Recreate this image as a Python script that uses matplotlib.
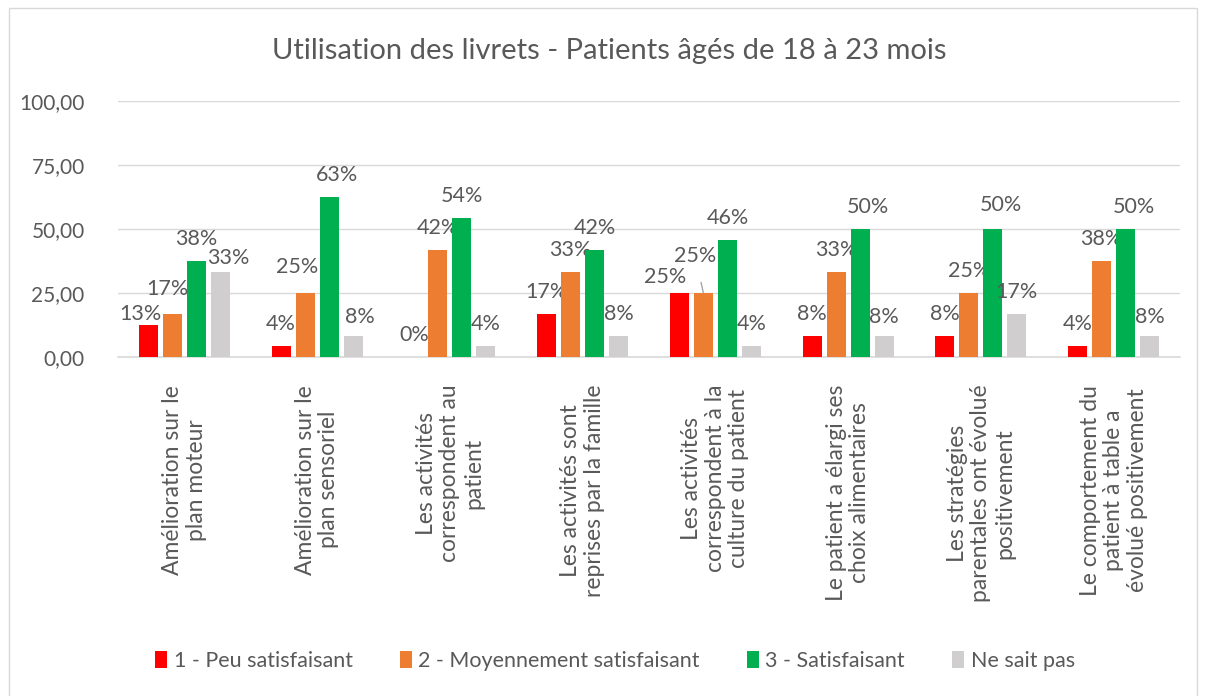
import matplotlib
matplotlib.use("Agg")
import matplotlib.pyplot as plt
from matplotlib.patches import Rectangle
import numpy as np

categories = [
    "Amélioration sur le\nplan moteur",
    "Amélioration sur le\nplan sensoriel",
    "Les activités\ncorrespondent au\npatient",
    "Les activités sont\nreprises par la famille",
    "Les activités\ncorrespondent à la\nculture du patient",
    "Le patient a élargi ses\nchoix alimentaires",
    "Les stratégies\nparentales ont évolué\npositivement",
    "Le comportement du\npatient à table a\névolué positivement",
]
series_names = ["1 - Peu satisfaisant", "2 - Moyennement satisfaisant",
                "3 - Satisfaisant", "Ne sait pas"]
peu = [12.5, 4.17, 0.0, 16.67, 25.0, 8.33, 8.33, 4.17]
moyen = [16.67, 25.0, 41.67, 33.33, 25.0, 33.33, 25.0, 37.5]
satisf = [37.5, 62.5, 54.17, 41.67, 45.83, 50.0, 50.0, 50.0]
nsp = [33.33, 8.33, 4.17, 8.33, 4.17, 8.33, 16.67, 8.33]
yticks = [0, 25, 50, 75, 100]

colors = ["#FF0000", "#ED7D31", "#00B050", "#D0CECE"]
text_col = "#595959"
grid_col = "#D9D9D9"
FONT = "Lato"

plt.rcParams["font.family"] = [FONT, "DejaVu Sans"]

W, H = 1206, 696
fig = plt.figure(figsize=(W / 100, H / 100), dpi=100)
ax = fig.add_axes([118 / W, 1 - 357 / H, (1180 - 118) / W, (357 - 101) / H])

values = [peu, moyen, satisf, nsp]
x = np.arange(len(categories))
bw = 0.143
step = 0.181
LBL = 15.5

# label nudges in pixels (dx, dy) for overlapping labels: (group, series)
nudges = {(0, 0): (-8, -11), (0, 3): (8, -8), (0, 1): (-5, 3),
          (1, 1): (-8, 4), (1, 2): (8, 0), (1, 3): (7, -3),
          (4, 0): (-14, -6), (5, 2): (8, 0), (6, 2): (8, 2),
          (7, 2): (8, 0), (5, 3): (0, -3), (7, 3): (0, -3)}

for si, vals in enumerate(values):
    pos = x + (si - 1.5) * step
    bars = ax.bar(pos, vals, width=bw, color=colors[si], label=series_names[si],
                  zorder=3)
    for gi, (b, v) in enumerate(zip(bars, vals)):
        lab = f"{int(v + 0.5)}%"
        cx = b.get_x() + b.get_width() / 2
        dx, dy = nudges.get((gi, si), (0, 0))
        if (gi, si) == (4, 1):
            ax.annotate(lab, xy=(cx, v), xytext=(-8, 37),
                        textcoords="offset pixels", ha="center", va="center",
                        fontsize=LBL, color=text_col,
                        arrowprops=dict(arrowstyle="-", color="#A6A6A6",
                                        lw=1, shrinkA=10, shrinkB=0))
        else:
            ax.annotate(lab, xy=(cx, v), xytext=(dx, 22 + dy),
                        textcoords="offset pixels", ha="center", va="center",
                        fontsize=LBL, color=text_col)

ax.set_xlim(-0.5, len(categories) - 0.5)
ax.set_ylim(0, 100)
ax.set_yticks(yticks)
ax.set_yticklabels([f"{t:.2f}".replace(".", ",") for t in yticks],
                   fontsize=15, color=text_col)
ax.yaxis.grid(True, color=grid_col, lw=1, zorder=0)
ax.set_axisbelow(True)
ax.set_xticks(x)
ax.set_xticklabels(categories, rotation=90, ha="center", va="top",
                   multialignment="center", fontsize=16.5, color=text_col,
                   linespacing=1.15)
ax.tick_params(axis="both", length=0)
ax.tick_params(axis="x", pad=20)
ax.tick_params(axis="y", pad=24)
for s in ["top", "right", "left"]:
    ax.spines[s].set_visible(False)
ax.spines["bottom"].set_color(grid_col)
ax.spines["bottom"].set_linewidth(1.2)

fig.text(609 / W, 1 - 51 / H, "Utilisation des livrets - Patients âgés de 18 à 23 mois",
         ha="center", va="center", fontsize=21, color=text_col)

fig.legend(loc="center", bbox_to_anchor=(615 / W, 1 - 661 / H), ncol=4,
           frameon=False, fontsize=15.5, labelcolor=text_col,
           handlelength=0.55, handleheight=0.85, handletextpad=0.3,
           columnspacing=2.2)

fig.add_artist(Rectangle((9 / W, -0.05), (1197 - 9) / W, 1.05 - 8 / H,
                         transform=fig.transFigure, fill=False,
                         edgecolor=grid_col, lw=1))

fig.savefig("out.png", dpi=100)
